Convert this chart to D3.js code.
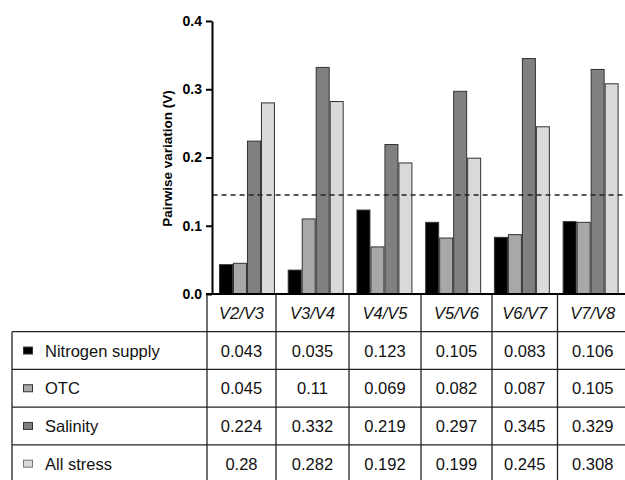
<!DOCTYPE html>
<html>
<head>
<meta charset="utf-8">
<script src="https://cdn.jsdelivr.net/npm/d3@7/dist/d3.min.js"></script>
<style>
  html, body { margin: 0; padding: 0; background: #fff; }
  svg { display: block; font-family: "Liberation Sans", Arial, sans-serif; }
</style>
</head>
<body>
<svg id="chart" width="625" height="480"></svg>
<script>
// data
const categories = ['V2/V3', 'V3/V4', 'V4/V5', 'V5/V6', 'V6/V7', 'V7/V8'];
const seriesNames = ['Nitrogen supply', 'OTC', 'Salinity', 'All stress'];
const nitrogen = [0.043, 0.035, 0.123, 0.105, 0.083, 0.106];
const otc = [0.045, 0.11, 0.069, 0.082, 0.087, 0.105];
const salinity = [0.224, 0.332, 0.219, 0.297, 0.345, 0.329];
const allStress = [0.28, 0.282, 0.192, 0.199, 0.245, 0.308];
const yTicks = [0, 0.1, 0.2, 0.3, 0.4];
const cutoff = 0.145;

const colors = ['#000000', '#a8a8a8', '#808080', '#d9d9d9'];
const seriesValues = [nitrogen, otc, salinity, allStress];

// layout
const MARGINS = { left: 212.6, right: 625, top: 21, bottom: 294 };
const tableLeft = 12;
const tableSplit = 207;
const colEdges = [207, 276, 349, 421, 492, 557.5, 628];
const rowHeight = 37.7;

const svg = d3.select('#chart');

const y = d3.scaleLinear().domain([0, 0.4]).range([MARGINS.bottom, MARGINS.top]);
const x = d3.scaleBand()
  .domain(categories)
  .range([MARGINS.left, MARGINS.right])
  .paddingInner(0.186)
  .paddingOuter(0.093);
const xSub = d3.scaleBand().domain(d3.range(seriesNames.length)).range([0, x.bandwidth()]);

// bars
const groups = svg.append('g').attr('class', 'bars')
  .selectAll('g')
  .data(categories)
  .join('g')
  .attr('transform', d => `translate(${x(d)},0)`);

groups.selectAll('rect')
  .data((d, i) => seriesValues.map((vals, s) => ({ s, v: vals[i] })))
  .join('rect')
  .attr('x', d => xSub(d.s) + 0.5)
  .attr('y', d => y(d.v))
  .attr('width', xSub.bandwidth() - 1)
  .attr('height', d => y(0) - y(d.v))
  .attr('fill', d => colors[d.s])
  .attr('stroke', '#333')
  .attr('stroke-width', 1);

// cutoff line
svg.append('line')
  .attr('x1', MARGINS.left).attr('x2', MARGINS.right)
  .attr('y1', y(cutoff)).attr('y2', y(cutoff))
  .attr('stroke', '#222')
  .attr('stroke-width', 1.4)
  .attr('stroke-dasharray', '5,4');

// y axis
const yAxis = svg.append('g')
  .attr('transform', `translate(${MARGINS.left - 0.6},0)`)
  .call(d3.axisLeft(y).tickValues(yTicks).tickFormat(d3.format('.1f')).tickSize(6).tickSizeOuter(0));
yAxis.select('.domain').attr('stroke', '#000').attr('stroke-width', 2);
yAxis.selectAll('.tick line').attr('stroke', '#000').attr('stroke-width', 2);
yAxis.selectAll('.tick text')
  .attr('x', -10)
  .attr('fill', '#000')
  .style('font-size', '14px')
  .style('font-weight', 'bold')
  .style('font-family', '"Liberation Sans", Arial, sans-serif');

svg.append('text')
  .attr('transform', `translate(171.5,${(MARGINS.top + MARGINS.bottom) / 2 + 1}) rotate(-90)`)
  .attr('text-anchor', 'middle')
  .style('font-size', '13.5px')
  .style('font-weight', 'bold')
  .text('Pairwise variation (V)');

// table
const rows = d3.scaleBand()
  .domain(['header', ...seriesNames])
  .range([MARGINS.bottom, MARGINS.bottom + rowHeight * (seriesNames.length + 1)]);
const colX = d3.scaleOrdinal().domain(categories).range(colEdges);
const colMid = c => {
  const i = categories.indexOf(c);
  return (colEdges[i] + colEdges[i + 1]) / 2;
};

const grid = svg.append('g').attr('class', 'table-grid')
  .attr('stroke', '#222').attr('stroke-width', 1.3);

// horizontal lines
grid.append('line')
  .attr('x1', tableSplit - 1).attr('x2', 625)
  .attr('y1', rows('header')).attr('y2', rows('header'));
grid.selectAll('line.h')
  .data(seriesNames)
  .join('line')
  .attr('class', 'h')
  .attr('x1', tableLeft).attr('x2', 625)
  .attr('y1', d => rows(d)).attr('y2', d => rows(d));

// vertical lines
grid.append('line')
  .attr('x1', tableLeft).attr('x2', tableLeft)
  .attr('y1', rows(seriesNames[0])).attr('y2', 480);
grid.selectAll('line.v')
  .data(categories)
  .join('line')
  .attr('class', 'v')
  .attr('x1', d => colX(d)).attr('x2', d => colX(d))
  .attr('y1', rows('header')).attr('y2', 480);

// x axis line on top of table
svg.append('line')
  .attr('x1', tableSplit - 1).attr('x2', 625)
  .attr('y1', y(0)).attr('y2', y(0))
  .attr('stroke', '#000').attr('stroke-width', 2);

const textStyle = sel => sel
  .style('font-size', '16.5px')
  .attr('fill', '#111');

// header labels
svg.append('g').selectAll('text')
  .data(categories)
  .join('text')
  .attr('x', d => colMid(d))
  .attr('y', rows('header') + rows.bandwidth() / 2 + 6)
  .attr('text-anchor', 'middle')
  .style('font-style', 'italic')
  .call(textStyle)
  .text(d => d);

// row labels and swatches
const rowG = svg.append('g').selectAll('g')
  .data(seriesNames)
  .join('g')
  .attr('transform', d => `translate(0,${rows(d) + rows.bandwidth() / 2})`);

rowG.append('rect')
  .attr('x', 23.5).attr('y', -3.5)
  .attr('width', 9).attr('height', 7)
  .attr('fill', (d, i) => colors[i])
  .attr('stroke', (d, i) => i === 3 ? '#777' : '#333')
  .attr('stroke-width', 1);

rowG.append('text')
  .attr('x', 45)
  .attr('y', 6)
  .call(textStyle)
  .text(d => d);

rowG.selectAll('text.val')
  .data((d, i) => seriesValues[i].map((v, j) => ({ v, c: categories[j] })))
  .join('text')
  .attr('class', 'val')
  .attr('x', d => colMid(d.c))
  .attr('y', 6)
  .attr('text-anchor', 'middle')
  .call(textStyle)
  .text(d => String(d.v));
</script>
</body>
</html>
